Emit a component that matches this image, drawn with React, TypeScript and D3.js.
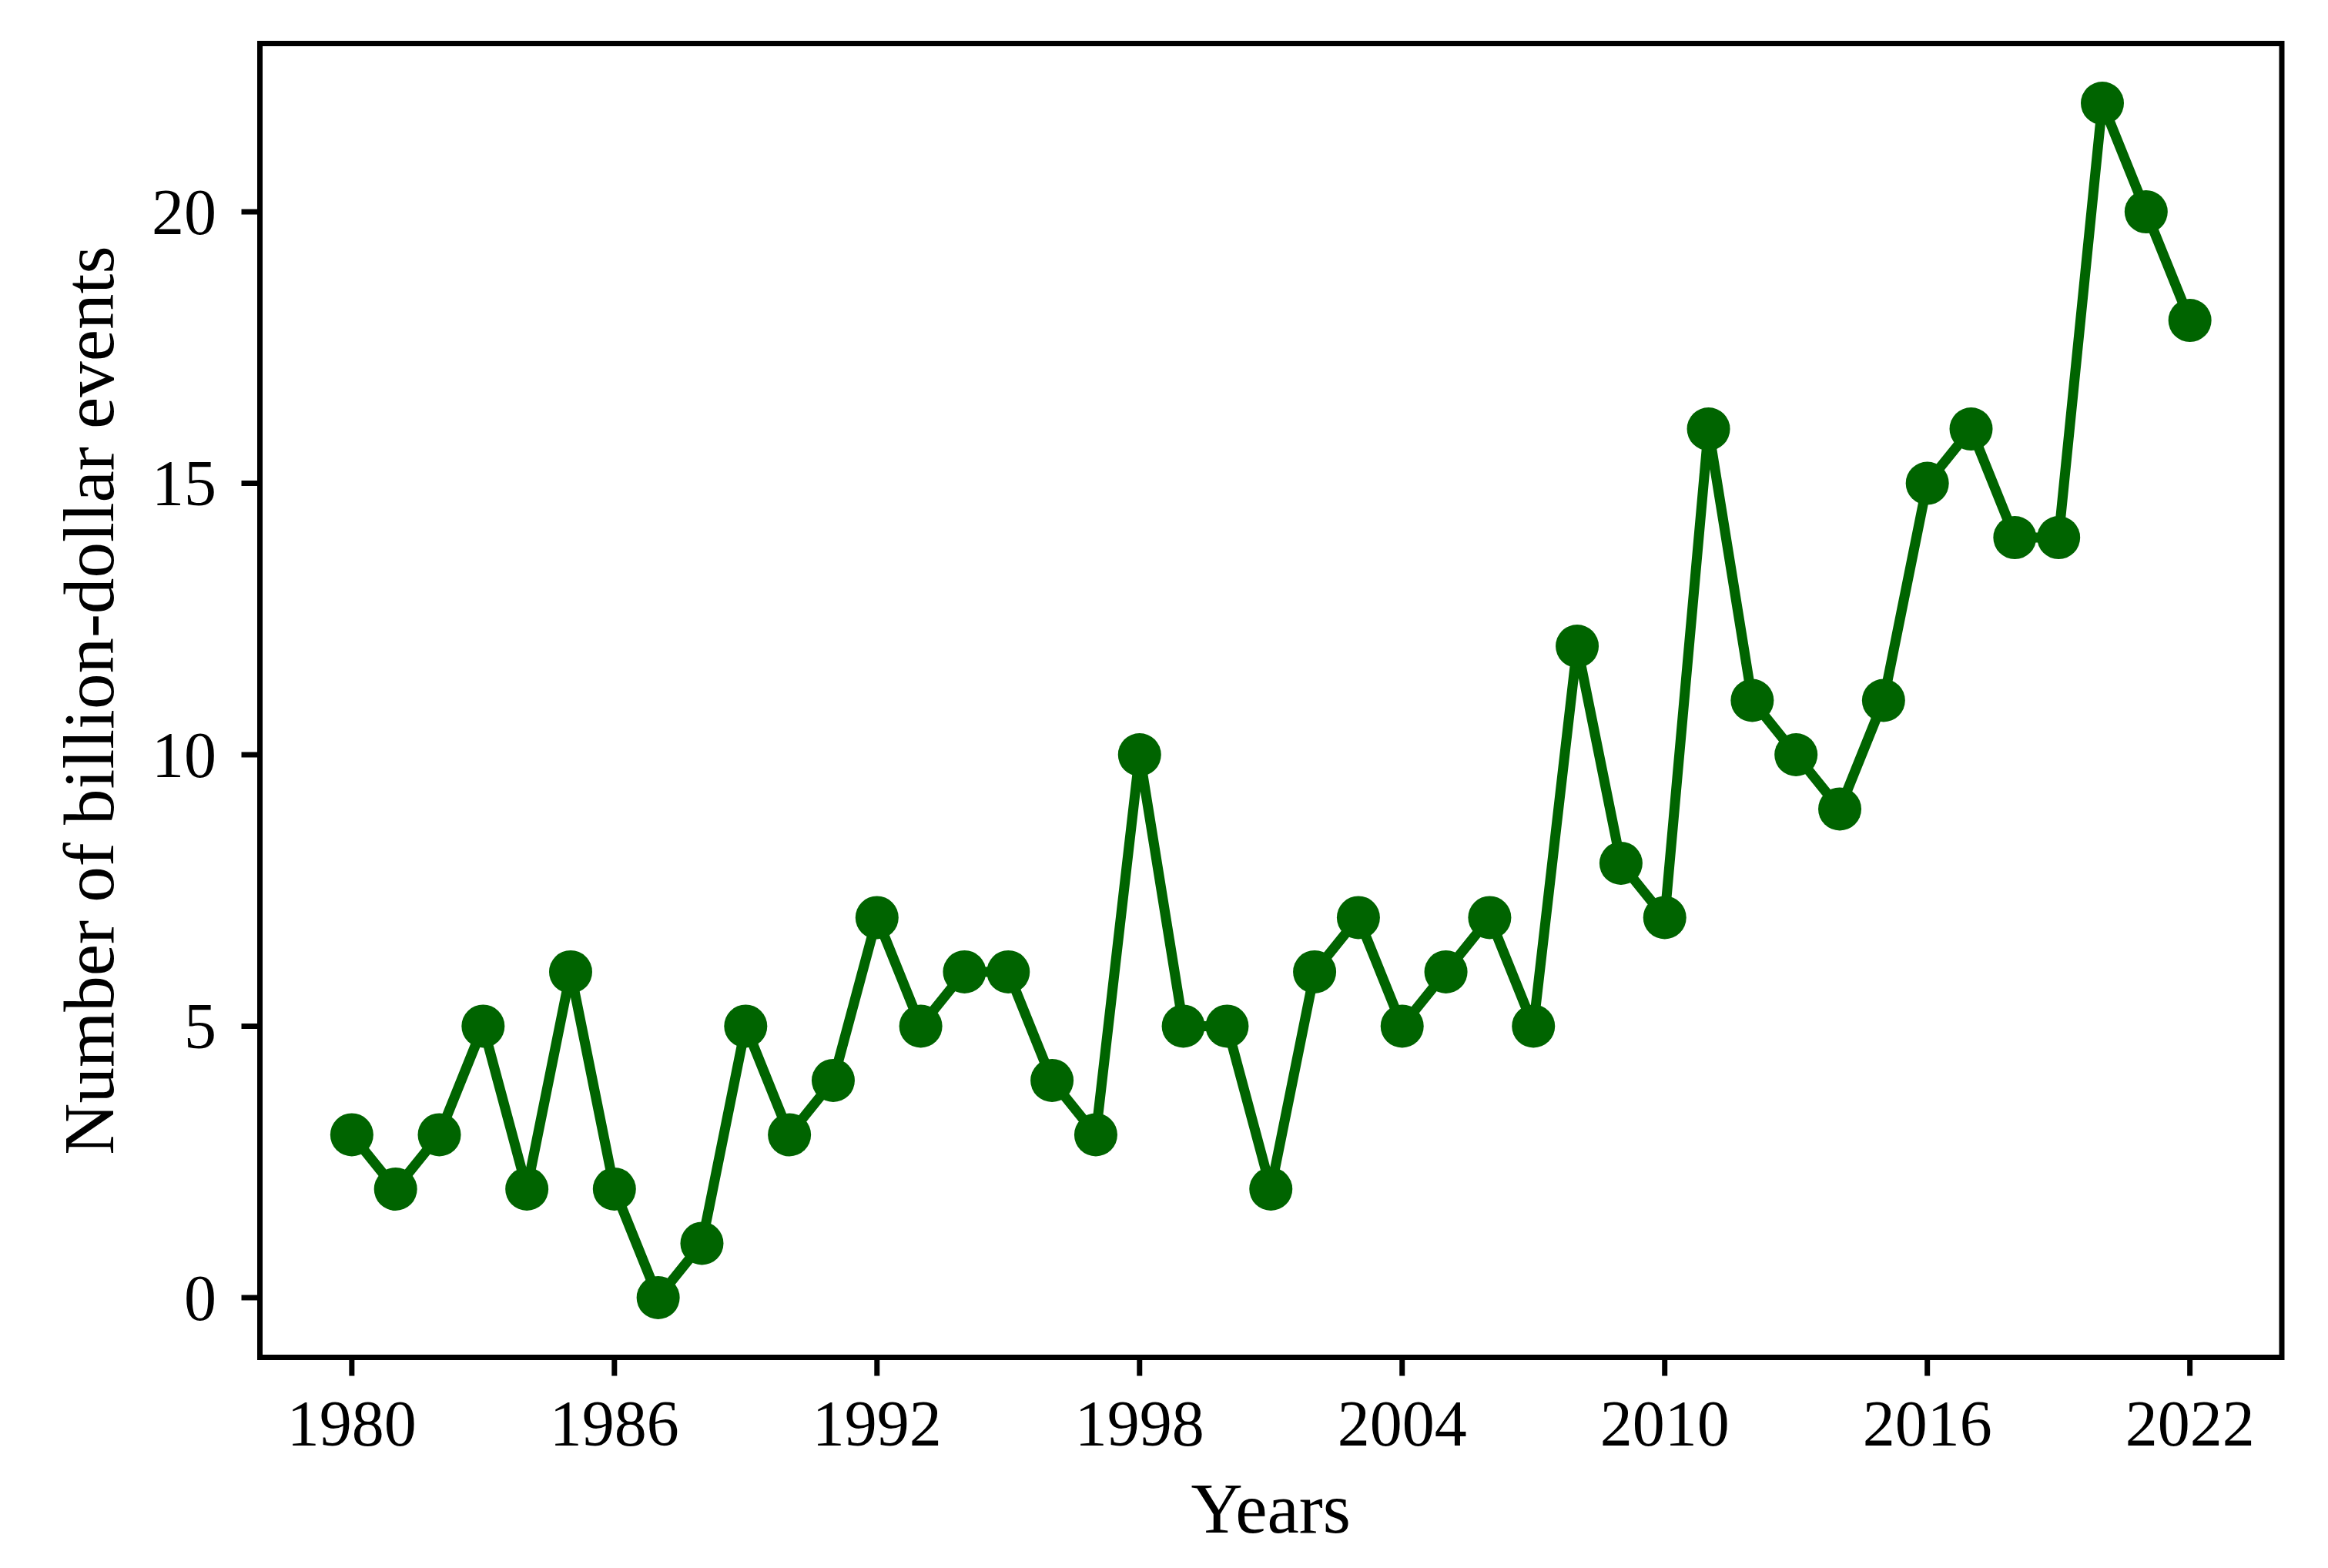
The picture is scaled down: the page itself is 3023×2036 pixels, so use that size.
import React, { useEffect } from "react";
import * as d3 from "d3";

const years: number[] = [
  1980, 1981, 1982, 1983, 1984, 1985, 1986, 1987, 1988, 1989,
  1990, 1991, 1992, 1993, 1994, 1995, 1996, 1997, 1998, 1999,
  2000, 2001, 2002, 2003, 2004, 2005, 2006, 2007, 2008, 2009,
  2010, 2011, 2012, 2013, 2014, 2015, 2016, 2017, 2018, 2019,
  2020, 2021, 2022,
];
const events: number[] = [
  3, 2, 3, 5, 2, 6, 2, 0, 1, 5,
  3, 4, 7, 5, 6, 6, 4, 3, 10, 5,
  5, 2, 6, 7, 5, 6, 7, 5, 12, 8,
  7, 16, 11, 10, 9, 11, 15, 16, 14, 14,
  22, 20, 18,
];
const xTicks: number[] = [1980, 1986, 1992, 1998, 2004, 2010, 2016, 2022];
const yTicks: number[] = [0, 5, 10, 15, 20];
const xLabel = "Years";
const yLabel = "Number of billion-dollar events";

const W = 3023;
const H = 2036;
const LEFT = 337.5;
const RIGHT = 2963;
const TOP = 56.5;
const BOTTOM = 1762.5;
const COLOR = "#006400";
const FONT = "'Liberation Serif', 'Times New Roman', serif";

export default function App() {
  useEffect(() => {
    document.body.style.margin = "0";
  }, []);

  const xMin = d3.min(years)!;
  const xMax = d3.max(years)!;
  const xPad = (xMax - xMin) * 0.05;
  const yMin = d3.min(events)!;
  const yMax = d3.max(events)!;
  const yPad = (yMax - yMin) * 0.05;

  const x = d3.scaleLinear().domain([xMin - xPad, xMax + xPad]).range([LEFT, RIGHT]);
  const y = d3.scaleLinear().domain([yMin - yPad, yMax + yPad]).range([BOTTOM, TOP]);

  const data = years.map((yr, i) => ({ yr, v: events[i] }));
  const line = d3
    .line<{ yr: number; v: number }>()
    .x((d) => x(d.yr))
    .y((d) => y(d.v));

  const tickLen = 24;
  const axisW = 7;

  return (
    <svg width={W} height={H} style={{ display: "block", background: "#fff" }}>
      <rect x={0} y={0} width={W} height={H} fill="#fff" />
      <path
        d={line(data) || ""}
        fill="none"
        stroke={COLOR}
        strokeWidth={13}
        strokeLinejoin="round"
        strokeLinecap="butt"
      />
      {data.map((d, i) => (
        <circle key={i} cx={x(d.yr)} cy={y(d.v)} r={28} fill={COLOR} />
      ))}
      <rect
        x={LEFT}
        y={TOP}
        width={RIGHT - LEFT}
        height={BOTTOM - TOP}
        fill="none"
        stroke="#000"
        strokeWidth={axisW}
        strokeLinejoin="miter"
      />
      {xTicks.map((t) => (
        <g key={"x" + t}>
          <line
            x1={x(t)}
            x2={x(t)}
            y1={BOTTOM}
            y2={BOTTOM + tickLen}
            stroke="#000"
            strokeWidth={axisW}
          />
          <text
            x={x(t)}
            y={1877}
            textAnchor="middle"
            fontFamily={FONT}
            fontSize={84}
            fill="#000"
          >
            {t}
          </text>
        </g>
      ))}
      {yTicks.map((t) => (
        <g key={"y" + t}>
          <line
            x1={LEFT - tickLen}
            x2={LEFT}
            y1={y(t)}
            y2={y(t)}
            stroke="#000"
            strokeWidth={axisW}
          />
          <text
            x={281}
            y={y(t)}
            dy="0.34em"
            textAnchor="end"
            fontFamily={FONT}
            fontSize={84}
            fill="#000"
          >
            {t}
          </text>
        </g>
      ))}
      <text
        x={(LEFT + RIGHT) / 2}
        y={1990}
        textAnchor="middle"
        fontFamily={FONT}
        fontSize={93}
        fill="#000"
      >
        {xLabel}
      </text>
      <text
        transform={`translate(147, ${(TOP + BOTTOM) / 2}) rotate(-90)`}
        textAnchor="middle"
        fontFamily={FONT}
        fontSize={93}
        fill="#000"
      >
        {yLabel}
      </text>
    </svg>
  );
}
